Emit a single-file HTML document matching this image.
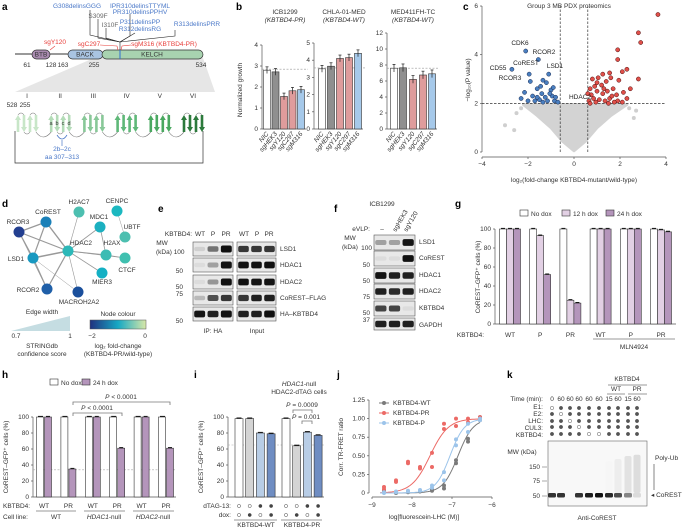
<!DOCTYPE html>
<html><head><meta charset="utf-8">
<style>
html,body{margin:0;padding:0;background:#fff;}
svg{display:block;font-family:"Liberation Sans",sans-serif;font-size:6.5px;fill:#333;}
.pl{font-weight:bold;font-size:10px;fill:#000;}
.ax{stroke:#555;stroke-width:0.7;fill:none;}
.it{font-style:italic;}
</style></head>
<body>
<svg id="fig" width="685" height="529" viewBox="0 0 685 529" xmlns="http://www.w3.org/2000/svg">
<text class="pl" x="2" y="10">a</text>
<text class="pl" x="236" y="10">b</text>
<text class="pl" x="463" y="10">c</text>
<text class="pl" x="2" y="207">d</text>
<text class="pl" x="158" y="212">e</text>
<text class="pl" x="334" y="212">f</text>
<text class="pl" x="455" y="207">g</text>
<text class="pl" x="2" y="378">h</text>
<text class="pl" x="194" y="378">i</text>
<text class="pl" x="337" y="378">j</text>
<text class="pl" x="507" y="378">k</text>

<g id="pa">
 <polygon points="94,58 203,58 215,92 15,92" fill="#e6e6e6"/>
 <line x1="15" y1="54" x2="32" y2="54" stroke="#333" stroke-width="1"/>
 <line x1="50" y1="54" x2="68" y2="54" stroke="#333" stroke-width="1"/>
 <rect x="32" y="50" width="18" height="9" rx="4.5" fill="#a98bb0" stroke="#333" stroke-width="0.7"/>
 <rect x="68" y="50" width="35" height="9" rx="4.5" fill="#a9c4e2" stroke="#333" stroke-width="0.7"/>
 <rect x="102" y="50" width="101" height="9" rx="4.5" fill="#a8d3b0" stroke="#333" stroke-width="0.7"/>
 <line x1="120" y1="50" x2="120" y2="59" stroke="#2f6fd0" stroke-width="1"/>
 <text x="41" y="56.5" text-anchor="middle">BTB</text>
 <text x="85" y="56.5" text-anchor="middle">BACK</text>
 <text x="152" y="56.5" text-anchor="middle">KELCH</text>
 <text x="27" y="67" text-anchor="middle">61</text><text x="51" y="67" text-anchor="middle">128</text>
 <text x="63" y="67" text-anchor="middle">163</text><text x="94" y="67" text-anchor="middle">255</text>
 <text x="201" y="67" text-anchor="middle">534</text>
 <g stroke="#222" stroke-width="0.6" fill="none">
  <polyline points="90,10 90,35 120,42"/><polyline points="98,19 98,38 120,42"/><polyline points="106,28 106,38 120,42"/>
  <polyline points="130,14 130,36 120,42"/><polyline points="135,33 120,42"/><polyline points="175,30 175,36 120,42"/>
  <line x1="120" y1="42" x2="120" y2="50"/>
 </g>
 <g fill="#4a78c8">
  <text x="77" y="8" text-anchor="middle">G308delinsGGG</text>
  <text x="140" y="8" text-anchor="middle">IPR310delinsTTYML</text>
  <text x="140" y="14" text-anchor="middle">PR310delinsPPHV</text>
  <text x="140" y="24" text-anchor="middle">P311delinsPP</text>
  <text x="140" y="31" text-anchor="middle">R312delinsRG</text>
  <text x="197" y="26" text-anchor="middle">R313delinsPRR</text>
 </g>
 <text x="98" y="18" text-anchor="middle" fill="#666">S309F</text>
 <text x="110" y="27" text-anchor="middle" fill="#666">I310F</text>
 <g fill="#e8403c">
  <text x="55" y="44" text-anchor="middle">sgY120</text>
  <text x="89" y="46" text-anchor="middle">sgC297</text>
  <text x="164" y="46" text-anchor="middle">sgM316 (KBTBD4-PR)</text>
 </g>
 <polyline points="55,46 50,50" stroke="#e8403c" stroke-width="0.6" fill="none"/>
 <polyline points="100,45 117,46 118,50" stroke="#e8403c" stroke-width="0.6" fill="none"/>
 <polyline points="131,45 122,46 121,50" stroke="#e8403c" stroke-width="0.6" fill="none"/>
 <g id="blades"></g>
 <text x="12" y="107" text-anchor="middle">528</text><text x="25" y="107" text-anchor="middle">255</text>
 <polyline points="15,131 15,163 203,163 203,131" stroke="#333" stroke-width="0.7" fill="none"/>
 <path d="M57,135 q5,8 10,0" stroke="#4a78c8" fill="none" stroke-width="0.8"/>
 <line x1="62" y1="146" x2="62" y2="140" stroke="#4a78c8" stroke-width="0.7"/>
 <text x="62" y="151" text-anchor="middle" fill="#4a78c8">2b–2c</text>
 <text x="62" y="159" text-anchor="middle" fill="#4a78c8">aa 307–313</text>
</g>

<g id="pb">
 <text x="242" y="90" transform="rotate(-90 242 90)" text-anchor="middle">Normalized growth</text>
 <text x="285" y="14" text-anchor="middle">ICB1299</text><text x="285" y="22" text-anchor="middle" class="it">(KBTBD4-PR)</text>
 <text x="344" y="14" text-anchor="middle">CHLA-01-MED</text><text x="344" y="22" text-anchor="middle" class="it">(KBTBD4-WT)</text>
 <text x="413" y="14" text-anchor="middle">MED411FH-TC</text><text x="413" y="22" text-anchor="middle" class="it">(KBTBD4-WT)</text>
</g>

<g id="pc">
 <text x="569" y="8" text-anchor="middle">Group 3 MB PDX proteomics</text>
 <text x="574" y="182" text-anchor="middle">log₂(fold-change KBTBD4-mutant/wild-type)</text>
 <text x="470" y="80" transform="rotate(-90 470 80)" text-anchor="middle">−log₁₀(P value)</text>
</g>

<g id="pd">
 <g stroke="#999" fill="none">
  <line x1="46" y1="222" x2="19" y2="232" stroke-width="1.2"/><line x1="46" y1="222" x2="33" y2="258" stroke-width="1.2"/>
  <line x1="46" y1="222" x2="68" y2="251" stroke-width="1.4"/><line x1="19" y1="232" x2="33" y2="258" stroke-width="1.2"/>
  <line x1="19" y1="232" x2="68" y2="251" stroke-width="1.2"/><line x1="33" y1="258" x2="68" y2="251" stroke-width="1.5"/>
  <line x1="33" y1="258" x2="47" y2="289" stroke-width="1.2"/><line x1="47" y1="289" x2="68" y2="251" stroke-width="1.2"/>
  <line x1="68" y1="251" x2="79" y2="212" stroke-width="0.6"/><line x1="68" y1="251" x2="100" y2="227" stroke-width="0.8"/>
  <line x1="68" y1="251" x2="106" y2="255" stroke-width="1"/><line x1="68" y1="251" x2="102" y2="273" stroke-width="0.8"/>
  <line x1="68" y1="251" x2="78" y2="292" stroke-width="0.6"/><line x1="68" y1="251" x2="125" y2="258" stroke-width="0.6"/>
  <line x1="117" y1="211" x2="125" y2="237" stroke-width="0.5"/><line x1="106" y1="255" x2="125" y2="258" stroke-width="0.8"/>
  <line x1="100" y1="227" x2="106" y2="255" stroke-width="0.8"/><line x1="33" y1="258" x2="78" y2="292" stroke-width="0.5"/>
  <line x1="19" y1="232" x2="47" y2="289" stroke-width="0.6"/>
 </g>
 <g>
  <circle cx="79" cy="212" r="5.5" fill="#4dbfb0"/><circle cx="117" cy="211" r="5.5" fill="#1cb8c0"/>
  <circle cx="46" cy="222" r="5.5" fill="#1a80b8"/><circle cx="100" cy="227" r="5.5" fill="#1cb0c0"/>
  <circle cx="125" cy="237" r="5.5" fill="#4dbfb0"/><circle cx="19" cy="232" r="5.5" fill="#233f90"/>
  <circle cx="68" cy="251" r="5.5" fill="#2cb8b8"/><circle cx="106" cy="255" r="5.5" fill="#3cbcb4"/>
  <circle cx="33" cy="258" r="5.5" fill="#1898c0"/><circle cx="125" cy="258" r="5.5" fill="#40c0b0"/>
  <circle cx="102" cy="273" r="5.5" fill="#14b0c4"/><circle cx="47" cy="289" r="5.5" fill="#1f5fa8"/>
  <circle cx="78" cy="292" r="5.5" fill="#1a4f9c"/>
 </g>
 <text x="79" y="204" text-anchor="middle">H2AC7</text><text x="117" y="203" text-anchor="middle">CENPC</text>
 <text x="48" y="214" text-anchor="middle">CoREST</text><text x="99" y="219" text-anchor="middle">MDC1</text>
 <text x="132" y="229" text-anchor="middle">UBTF</text><text x="18" y="224" text-anchor="middle">RCOR3</text>
 <text x="81" y="245" text-anchor="middle">HDAC2</text><text x="112" y="245" text-anchor="middle">H2AX</text>
 <text x="16" y="261" text-anchor="middle">LSD1</text><text x="127" y="272" text-anchor="middle">CTCF</text>
 <text x="102" y="284" text-anchor="middle">MIER3</text><text x="28" y="292" text-anchor="middle">RCOR2</text>
 <text x="79" y="304" text-anchor="middle">MACROH2A2</text>
 <text x="42" y="314" text-anchor="middle">Edge width</text>
 <polygon points="11,331 70,316 70,331" fill="#c5dde2"/>
 <text x="16" y="338" text-anchor="middle">0.7</text><text x="70" y="338" text-anchor="middle">1</text>
 <text x="42" y="348" text-anchor="middle">STRINGdb</text><text x="42" y="356" text-anchor="middle">confidence score</text>
 <text x="118" y="316" text-anchor="middle">Node colour</text>
 <defs><linearGradient id="ncg" x1="0" x2="1"><stop offset="0" stop-color="#21317f"/><stop offset="0.5" stop-color="#16a8c4"/><stop offset="1" stop-color="#d8e8a8"/></linearGradient></defs>
 <rect x="90" y="320" width="56" height="9" fill="url(#ncg)" stroke="#555" stroke-width="0.5"/>
 <text x="92" y="338" text-anchor="middle">−2</text><text x="145" y="338" text-anchor="middle">0</text>
 <text x="118" y="348" text-anchor="middle">log₂ fold-change</text><text x="118" y="356" text-anchor="middle">(KBTBD4-PR/wild-type)</text>
</g>

<g id="pe">
 <text x="192" y="236" text-anchor="end">KBTBD4:</text>
 <text x="200" y="236" text-anchor="middle">WT</text><text x="213" y="236" text-anchor="middle">P</text><text x="226" y="236" text-anchor="middle">PR</text>
 <text x="244" y="236" text-anchor="middle">WT</text><text x="257" y="236" text-anchor="middle">P</text><text x="269" y="236" text-anchor="middle">PR</text>
 <text x="162" y="245" text-anchor="middle">MW</text><text x="156" y="254">(kDa) 100</text>
 <text x="183" y="273" text-anchor="end">50</text><text x="183" y="289" text-anchor="end">50</text>
 <text x="183" y="296" text-anchor="end">75</text><text x="183" y="323" text-anchor="end">50</text>
 <text x="213" y="333" text-anchor="middle">IP: HA</text><text x="257" y="333" text-anchor="middle">Input</text>
</g>

<g id="pf">
 <text x="382" y="206" text-anchor="middle">ICB1299</text>
 <text x="370" y="231" text-anchor="end">eVLP:</text>
 <text x="382" y="231" text-anchor="middle">–</text>
 <text x="396" y="232" transform="rotate(-60 396 232)">sgHEK3</text>
 <text x="407" y="232" transform="rotate(-60 407 232)">sgY120</text>
 <text x="350" y="240" text-anchor="middle">MW</text><text x="342" y="249">(kDa)</text><text x="372" y="250" text-anchor="end">100</text>
 <text x="370" y="267" text-anchor="end">50</text><text x="370" y="283" text-anchor="end">50</text>
 <text x="370" y="299" text-anchor="end">75</text><text x="370" y="315" text-anchor="end">50</text><text x="370" y="322" text-anchor="end">37</text>
</g>

<g id="pg">
 <rect x="520" y="210" width="8" height="6" fill="#fff" stroke="#333" stroke-width="0.6"/>
 <text x="531" y="216">No dox</text>
 <rect x="562" y="210" width="8" height="6" fill="#e2d0e4" stroke="#333" stroke-width="0.6"/>
 <text x="573" y="216">12 h dox</text>
 <rect x="606" y="210" width="8" height="6" fill="#b495bb" stroke="#333" stroke-width="0.6"/>
 <text x="617" y="216">24 h dox</text>
 <text x="480" y="277" transform="rotate(-90 480 277)" text-anchor="middle">CoREST–GFP⁺ cells (%)</text>
 <text x="484" y="337" text-anchor="end">KBTBD4:</text>
 <line x1="593" y1="339" x2="675" y2="339" stroke="#777" stroke-width="0.8"/>
 <text x="634" y="349" text-anchor="middle">MLN4924</text>
</g>

<g id="ph">
 <rect x="50" y="379" width="8" height="6" fill="#fff" stroke="#333" stroke-width="0.6"/>
 <text x="61" y="385">No dox</text>
 <rect x="82" y="379" width="8" height="6" fill="#b495bb" stroke="#333" stroke-width="0.6"/>
 <text x="93" y="385">24 h dox</text>
 <text x="8" y="457" transform="rotate(-90 8 457)" text-anchor="middle">CoREST–GFP⁺ cells (%)</text>
 <polyline points="73,405 73,402 170,402 170,405" stroke="#777" stroke-width="0.8" fill="none"/>
 <text x="121" y="399" text-anchor="middle"><tspan class="it">P</tspan> &lt; 0.0001</text>
 <polyline points="73,416 73,413 122,413 122,416" stroke="#777" stroke-width="0.8" fill="none"/>
 <text x="97" y="410" text-anchor="middle"><tspan class="it">P</tspan> &lt; 0.0001</text>
 <text x="3" y="508">KBTBD4:</text><text x="3" y="519">Cell line:</text>
 <line x1="36" y1="511" x2="76" y2="511" stroke="#333" stroke-width="0.6"/>
 <line x1="84" y1="511" x2="125" y2="511" stroke="#333" stroke-width="0.6"/>
 <line x1="133" y1="511" x2="174" y2="511" stroke="#333" stroke-width="0.6"/>
 <text x="56" y="519" text-anchor="middle">WT</text>
 <text x="104" y="519" text-anchor="middle"><tspan class="it">HDAC1</tspan>-null</text>
 <text x="153" y="519" text-anchor="middle"><tspan class="it">HDAC2</tspan>-null</text>
</g>

<g id="pi">
 <text x="299" y="386" text-anchor="middle"><tspan class="it">HDAC1</tspan>-null</text>
 <text x="299" y="394" text-anchor="middle">HDAC2-dTAG cells</text>
 <text x="203" y="457" transform="rotate(-90 203 457)" text-anchor="middle">CoREST–GFP⁺ cells (%)</text>
 <polyline points="293,413 293,410 312,410 312,413" stroke="#777" stroke-width="0.8" fill="none"/>
 <text x="302" y="407" text-anchor="middle"><tspan class="it">P</tspan> = 0.0009</text>
 <polyline points="302,424 302,421 312,421 312,424" stroke="#777" stroke-width="0.8" fill="none"/>
 <text x="306" y="419" text-anchor="middle"><tspan class="it">P</tspan> = 0.001</text>
 <text x="231" y="508" text-anchor="end">dTAG-13:</text><text x="231" y="517" text-anchor="end">dox:</text>
 <line x1="234" y1="520" x2="277" y2="520" stroke="#333" stroke-width="0.6"/>
 <line x1="281" y1="520" x2="322" y2="520" stroke="#333" stroke-width="0.6"/>
 <text x="256" y="527" text-anchor="middle">KBTBD4-WT</text><text x="302" y="527" text-anchor="middle">KBTBD4-PR</text>
</g>

<g id="pj">
 <text x="343" y="447" transform="rotate(-90 343 447)" text-anchor="middle">Corr. TR-FRET ratio</text>
 <text x="424" y="519" text-anchor="middle">log[fluorescein-LHC (M)]</text>
</g>

<g id="pk">
 <text x="627" y="381" text-anchor="middle">KBTBD4</text>
 <line x1="608" y1="385" x2="647" y2="385" stroke="#333" stroke-width="0.6"/>
 <text x="616" y="391" text-anchor="middle">WT</text><text x="637" y="391" text-anchor="middle">PR</text>
 <line x1="607" y1="394" x2="625" y2="394" stroke="#333" stroke-width="0.6"/>
 <line x1="628" y1="394" x2="647" y2="394" stroke="#333" stroke-width="0.6"/>
 <text x="543" y="401" text-anchor="end">Time (min):</text>
 <text x="543" y="409" text-anchor="end">E1:</text><text x="543" y="416" text-anchor="end">E2:</text>
 <text x="543" y="423" text-anchor="end">LHC:</text><text x="543" y="430" text-anchor="end">CUL3:</text>
 <text x="543" y="437" text-anchor="end">KBTBD4:</text>
 <rect x="548" y="441" width="99" height="65" fill="#f8f8f8" stroke="#666" stroke-width="0.6"/>
 <text x="522" y="454" text-anchor="middle">MW (kDa)</text>
 <text x="540" y="469" text-anchor="end">150</text><text x="540" y="483" text-anchor="end">75</text><text x="540" y="498" text-anchor="end">50</text>
 <line x1="542" y1="467" x2="547" y2="467" stroke="#555" stroke-width="0.5"/>
 <line x1="542" y1="481" x2="547" y2="481" stroke="#555" stroke-width="0.5"/>
 <line x1="542" y1="496" x2="547" y2="496" stroke="#555" stroke-width="0.5"/>
 <text x="655" y="460">Poly-Ub</text>
 <line x1="654" y1="464" x2="654" y2="490" stroke="#333" stroke-width="0.6"/>
 <text x="651" y="497">◂ CoREST</text>
 <text x="597" y="520" text-anchor="middle">Anti-CoREST</text>
</g>
</svg>

<script>
const bCats = ['NIC','sgHEK3','sgY120','sgC297','sgM316'];
const bICB1299 = [2.8, 2.72, 1.55, 1.82, 1.87];
const bCHLA = [3.5, 3.65, 4.1, 4.15, 4.4];
const bMED411 = [7.6, 7.65, 6.2, 6.75, 6.9];
const bTicks1 = [0,1,2,3,4];
const bTicks2 = [0,1,2,3,4,5];
const bTicks3 = [0,2,4,6,8,10,12];

const cBlueX = [-2.1,-1.55,-2.7,-1.95,-1.1,-1.9,-1.35,-1.2,-2.15,-1.6,-1.0,-1.4,-1.8,-1.25,-0.95,-2.0,-1.7,-1.5,-1.15,-0.85,-0.7,-1.35,-1.05,-0.8,-1.6,-2.3,-1.45,-0.9];
const cBlueY = [4.15,3.8,3.4,3.2,3.2,2.9,2.95,2.85,2.45,2.6,2.55,2.4,2.3,2.25,2.3,2.1,2.1,2.15,2.1,2.1,2.05,2.05,2.4,2.25,2.25,2.2,2.7,2.65];
const cRedX = [3.65,2.8,2.9,1.9,1.9,2.3,2.8,1.55,1.25,1.05,0.8,1.6,2.1,1.95,1.4,0.9,1.2,0.7,1.7,2.15,1.0,1.45,0.75,1.25,1.85,2.3,0.85,1.1,1.55,0.65,1.35,1.9,2.1,0.95,1.65,1.3,0.6,1.0,1.75,2.45,1.5,0.7];
const cRedY = [5.65,4.9,4.5,4.2,3.8,3.4,3.0,3.25,3.2,3.05,3.0,3.05,3.3,2.95,2.9,2.7,2.75,2.6,2.6,2.45,2.5,2.5,2.35,2.4,2.35,2.2,2.2,2.15,2.2,2.1,2.1,2.1,2.05,2.05,2.3,2.6,2.4,2.85,2.05,2.6,2.0,2.0];
const cGrayEnvX = [-2.2,-1.6,-1.0,-0.5,0,0.5,1.0,1.6,2.3];
const cGrayEnvY = [1.95,1.5,1.0,0.45,0.05,0.45,1.0,1.5,1.95];
const cGrayOutX = [-3.0,-2.6,-2.5,2.6,2.7,-2.3,2.4];
const cGrayOutY = [1.1,0.9,1.6,1.4,1.7,1.8,1.8];
const cTicksX = [-4,-2,0,2,4];
const cTicksY = [0,2,4,6];

const gGroups = ['WT','P','PR','WT','P','PR'];
const gNoDox = [100,100,100,100,100,100];
const g12h = [100,93,25,100,100,99];
const g24h = [100,52,22,100,100,97];
const pctTicks = [0,20,40,60,80,100];

const hKbtbd4 = ['WT','PR','WT','PR','WT','PR'];
const hNoDox = [100,100,100,100,100,100];
const hDox = [100,35,100,61,100,61];

const iVals = [98,98,80,79,98,64,81,77];
const iDtag = [0,0,1,1,0,0,1,1];
const iDox = [0,1,0,1,0,1,0,1];

const jConc = [-8.7,-8.4,-8.1,-7.8,-7.5,-7.2,-6.9,-6.6,-6.3];
const jWT1 = [0.02,0.0,0.01,0.02,0.03,0.06,0.44,0.73,1.02];
const jWT2 = [0.04,0.01,0.02,0.03,0.05,0.1,0.4,0.69,0.98];
const jPR1 = [0.08,0.17,0.4,0.33,0.54,0.93,1.0,1.0,1.02];
const jPR2 = [0.05,0.15,0.42,0.35,0.35,0.86,0.9,0.95,1.0];
const jP1 = [0.0,0.02,0.02,0.04,0.1,0.28,0.72,0.93,1.0];
const jP2 = [0.01,0.01,0.03,0.03,0.07,0.17,0.64,0.82,0.98];
const jEC50 = [-6.85,-7.55,-7.05];
const jHill = [2.3,1.9,2.4];
const jTicksX = [-9,-8,-7,-6];
const jTicksY = [0,0.25,0.5,0.75,1.0,1.25];

const kTime = ['0','60','60','60','60','60','15','60','15','60'];
const kE1 = [0,1,1,1,1,1,1,1,1,1];
const kE2 = [1,0,1,1,1,1,1,1,1,1];
const kLHC = [1,1,0,1,1,1,1,1,1,1];
const kCUL3 = [1,1,1,0,1,1,1,1,1,1];
const kKB = [1,1,1,1,0,0,1,1,1,1];
const kBand = [0.85,0.85,0,0.85,0.95,1.0,0.9,0.75,0.5,0.12];
const kSmear = [0,0,0,0,0,0,0.05,0.25,0.5,0.6];

const eRows = ['LSD1','HDAC1','HDAC2','CoREST–FLAG','HA–KBTBD4'];
const eIP = [[0.1,0.5,1.0],[0.05,0.3,1.0],[0.05,0.35,1.0],[0.2,0.65,0.75],[0.9,0.85,1.0]];
const eInput = [[0.75,0.75,0.75],[0.95,0.95,0.95],[0.95,0.9,0.9],[0.75,0.85,0.85],[0.85,0.85,1.0]];
const fRows = ['LSD1','CoREST','HDAC1','HDAC2','KBTBD4','GAPDH'];
const fVals = [[0.3,0.3,0.9],[0.05,0.05,0.95],[0.9,0.85,0.85],[0.85,0.8,0.85],[0.7,0.7,0.05],[0.85,0.85,0.85]];

const NS='http://www.w3.org/2000/svg';
function add(p,tag,a,txt){const e=document.createElementNS(NS,tag);for(const k in a)e.setAttribute(k,a[k]);if(txt!=null)e.textContent=txt;p.appendChild(e);return e;}
const S = id=>document.getElementById(id);

(function(){
  const g=S('blades');
  const cols=['#c8e6c8','#b4dcb8','#88c898','#5fb878','#4aa860','#2c7a3c'];
  const romans=['I','II','III','IV','V','VI'];
  for(let b=0;b<6;b++){
    const cx=27+b*33.2;
    const t=add(g,'text',{x:cx,y:98,'text-anchor':'middle'},romans[b]);
    
    
    for(let s=0;s<4;s++){
      const x=cx-9+s*6;const up=(s%2===0);
      const y1=115,y2=132;
      let pts;
      if(up) pts=`${x-1.3},${y2} ${x-1.3},${y1+5} ${x-3},${y1+5} ${x},${y1} ${x+3},${y1+5} ${x+1.3},${y1+5} ${x+1.3},${y2}`;
      else pts=`${x-1.3},${y1} ${x-1.3},${y2-5} ${x-3},${y2-5} ${x},${y2} ${x+3},${y2-5} ${x+1.3},${y2-5} ${x+1.3},${y1}`;
      const a=add(g,'polygon',{points:pts,fill:cols[b]});
      
      
      if(s<3){const yy=(s%2===0)?y1:y2;const dy=(s%2===0)?-4:4;
        add(g,'path',{d:`M${x},${yy} q3,${dy} 6,0`,stroke:'#777',fill:'none','stroke-width':0.6});}
    }
    if(b<5) add(g,'path',{d:`M${cx+9},132 q7,10 15.2,0`,stroke:'#777',fill:'none','stroke-width':0.6});
  }
  ['a','b','c','d'].forEach((l,i)=>add(g,'text',{x:51+i*6,y:125,'text-anchor':'middle','font-size':5.5},l));
})();

function bChart(vals,ticks,axX,y0,yTop,centers,dashV){
  const g=S('pb');
  const max=ticks[ticks.length-1];
  const sy=v=>y0-(v/max)*(y0-yTop);
  add(g,'line',{x1:axX,y1:y0,x2:axX,y2:yTop,class:'ax'});
  add(g,'line',{x1:axX,y1:y0,x2:centers[centers.length-1]+5,y2:y0,class:'ax'});
  ticks.forEach(t=>{add(g,'line',{x1:axX-2,y1:sy(t),x2:axX,y2:sy(t),class:'ax'});add(g,'text',{x:axX-4,y:sy(t)+2,'text-anchor':'end'},String(t));});
  const cols=['#fff','#8f8f8f','#df9c9c','#df9c9c','#a6c9ea'];
  add(g,'line',{x1:axX,y1:sy(dashV),x2:centers[4]+7,y2:sy(dashV),stroke:'#999','stroke-dasharray':'2,1.5','stroke-width':0.6});
  vals.forEach((v,i)=>{
    const r=add(g,'rect',{x:centers[i]-3.5,y:sy(v),width:7,height:y0-sy(v),fill:cols[i],stroke:'#333','stroke-width':0.6});
    
    
    const e=(y0-yTop)*0.04;
    add(g,'line',{x1:centers[i],y1:sy(v)-e,x2:centers[i],y2:sy(v)+e,stroke:'#222','stroke-width':0.7});
    add(g,'line',{x1:centers[i]-1.5,y1:sy(v)-e,x2:centers[i]+1.5,y2:sy(v)-e,stroke:'#222','stroke-width':0.7});
    const tx=add(g,'text',{x:centers[i]+2,y:y0+5,'text-anchor':'end',class:'it',transform:`rotate(-50 ${centers[i]+2} ${y0+5})`},bCats[i]);
    
    
  });
}
bChart(bICB1299,bTicks1,262,129,45,[267,275.5,284,292.5,301],2.85);
bChart(bCHLA,bTicks2,314,129,43,[322,331,340,349,358],3.55);
bChart(bMED411,bTicks3,387,129,33,[394,403,413,423,432],7.6);

(function(){
  const g=S('pc');
  const X=v=>574+v*23, Y=v=>152-v*24.33;
  add(g,'line',{x1:X(-4),y1:152,x2:X(-4),y2:Y(6),class:'ax'});
  add(g,'line',{x1:X(-4),y1:157,x2:X(4),y2:157,class:'ax'});
  cTicksY.forEach(t=>{add(g,'line',{x1:X(-4)-2,y1:Y(t),x2:X(-4),y2:Y(t),class:'ax'});add(g,'text',{x:X(-4)-4,y:Y(t)+2,'text-anchor':'end'},String(t));});
  cTicksX.forEach(t=>{add(g,'line',{x1:X(t),y1:157,x2:X(t),y2:159,class:'ax'});add(g,'text',{x:X(t),y:166,'text-anchor':'middle'},t<0?'−'+(-t):String(t));});
  let pts=cGrayEnvX.map((x,i)=>X(x)+','+Y(cGrayEnvY[i])).join(' ');
  const cl=add(g,'polygon',{points:pts,fill:'#d3d3d3',stroke:'#d3d3d3','stroke-width':3,'stroke-linejoin':'round'});
  
  
  cGrayOutX.forEach((x,i)=>{const c=add(g,'circle',{cx:X(x),cy:Y(cGrayOutY[i]),r:2,fill:'#cfcfcf'});
    
    });
  add(g,'line',{x1:X(-4),y1:Y(2),x2:X(4),y2:Y(2),stroke:'#333','stroke-dasharray':'2.5,1.5','stroke-width':0.7});
  add(g,'line',{x1:X(-0.6),y1:Y(0),x2:X(-0.6),y2:Y(6),stroke:'#333','stroke-dasharray':'2.5,1.5','stroke-width':0.7});
  add(g,'line',{x1:X(0.6),y1:Y(0),x2:X(0.6),y2:Y(6),stroke:'#333','stroke-dasharray':'2.5,1.5','stroke-width':0.7});
  cBlueX.forEach((x,i)=>{const c=add(g,'circle',{cx:X(x),cy:Y(cBlueY[i]),r:2.1,fill:'#4a7fc0',stroke:'#1a2a50','stroke-width':0.5});
    
    });
  cRedX.forEach((x,i)=>{const c=add(g,'circle',{cx:X(x),cy:Y(cRedY[i]),r:2.1,fill:'#e0504a',stroke:'#4a1010','stroke-width':0.5});
    
    });
  [['CDK6',520,45],['RCOR2',544,54],['CoREST',526,65],['LSD1',555,68],['CD55',498,70],['RCOR3',510,80],['HDAC2',580,99]].forEach(l=>{
    const t=add(g,'text',{x:l[1],y:l[2],'text-anchor':'middle',fill:'#222'},l[0]);
    
    });
})();

function blotBox(g,x,y,w,h,vals){
  add(g,'rect',{x:x,y:y,width:w,height:h,fill:'#e8e8e8',stroke:'#555','stroke-width':0.6});
  const lw=w/vals.length;
  vals.forEach((v,i)=>{if(v>0.02){const b=add(g,'rect',{x:x+i*lw+1.2,y:y+h/2-2-1.5*v,width:lw-2.4,height:4+3*v,rx:2,fill:'#111',opacity:Math.min(1,v*1.1)});
    
    }});
}
(function(){
  const g=S('pe');
  const ys=[242,258,275,291,307];
  eRows.forEach((r,i)=>{
    blotBox(g,193,ys[i],40,14,eIP[i]);
    blotBox(g,237,ys[i],39,14,eInput[i]);
    add(g,'text',{x:280,y:ys[i]+9},r);
  });
  const gf=S('pf');
  const fy=[235,251,268,284,301,318];
  fRows.forEach((r,i)=>{
    blotBox(gf,374,fy[i],41,i===5?12:15,fVals[i]);
    add(gf,'text',{x:419,y:fy[i]+9},r);
  });
})();

(function(){
  const g=S('pg');
  const y0=324, y100=229, axX=495;
  const Y=v=>y0-(v/100)*(y0-y100);
  add(g,'line',{x1:axX,y1:y0,x2:axX,y2:y100,class:'ax'});
  add(g,'line',{x1:axX,y1:y0,x2:676,y2:y0,class:'ax'});
  pctTicks.forEach(t=>{add(g,'line',{x1:axX-2,y1:Y(t),x2:axX,y2:Y(t),class:'ax'});add(g,'text',{x:axX-4,y:Y(t)+2,'text-anchor':'end'},String(t));});
  const cols=['#fff','#e2d0e4','#b495bb'];
  gGroups.forEach((lab,i)=>{
    const cx=510+i*30.2;
    [gNoDox[i],g12h[i],g24h[i]].forEach((v,k)=>{
      const r=add(g,'rect',{x:cx-10.5+k*7,y:Y(v),width:7,height:y0-Y(v),fill:cols[k],stroke:'#333','stroke-width':0.6});
      
      
      add(g,'line',{x1:cx-9+k*7,y1:Y(v)-0.6,x2:cx-5+k*7,y2:Y(v)-0.6,stroke:'#111','stroke-width':1});
    });
    add(g,'text',{x:cx,y:337,'text-anchor':'middle'},lab);
  });
})();

(function(){
  const g=S('ph');
  const y0=497,y100=417,axX=33;
  const Y=v=>y0-(v/100)*(y0-y100);
  add(g,'line',{x1:axX,y1:y0,x2:axX,y2:y100,class:'ax'});
  add(g,'line',{x1:axX,y1:y0,x2:176,y2:y0,class:'ax'});
  pctTicks.forEach(t=>{add(g,'line',{x1:axX-2,y1:Y(t),x2:axX,y2:Y(t),class:'ax'});add(g,'text',{x:axX-4,y:Y(t)+2,'text-anchor':'end'},String(t));});
  add(g,'line',{x1:axX,y1:Y(34),x2:176,y2:Y(34),stroke:'#aaa','stroke-dasharray':'2,1.5','stroke-width':0.6});
  hKbtbd4.forEach((lab,i)=>{
    const cx=44+i*24.4;
    const r1=add(g,'rect',{x:cx-7.5,y:Y(hNoDox[i]),width:7,height:y0-Y(hNoDox[i]),fill:'#fff',stroke:'#333','stroke-width':0.6});
    
    
    const r2=add(g,'rect',{x:cx+0.5,y:Y(hDox[i]),width:7,height:y0-Y(hDox[i]),fill:'#b495bb',stroke:'#333','stroke-width':0.6});
    
    
    add(g,'line',{x1:cx-6,y1:Y(hNoDox[i])-0.6,x2:cx-1,y2:Y(hNoDox[i])-0.6,stroke:'#111','stroke-width':1});
    add(g,'line',{x1:cx+2,y1:Y(hDox[i])-0.6,x2:cx+6,y2:Y(hDox[i])-0.6,stroke:'#111','stroke-width':1});
    add(g,'text',{x:cx,y:508,'text-anchor':'middle'},lab);
  });
})();

(function(){
  const g=S('pi');
  const y0=497,y100=417,axX=228;
  const Y=v=>y0-(v/100)*(y0-y100);
  add(g,'line',{x1:axX,y1:y0,x2:axX,y2:y100,class:'ax'});
  add(g,'line',{x1:axX,y1:y0,x2:324,y2:y0,class:'ax'});
  pctTicks.forEach(t=>{add(g,'line',{x1:axX-2,y1:Y(t),x2:axX,y2:Y(t),class:'ax'});add(g,'text',{x:axX-4,y:Y(t)+2,'text-anchor':'end'},String(t));});
  add(g,'line',{x1:axX,y1:Y(65),x2:324,y2:Y(65),stroke:'#aaa','stroke-dasharray':'2,1.5','stroke-width':0.6});
  const cols=['#fff','#d4d4d4','#b8cde6','#6f8dc2'];
  iVals.forEach((v,i)=>{
    const cx=(i<4?239:286)+(i%4)*10.7;
    const r=add(g,'rect',{x:cx-4,y:Y(v),width:8,height:y0-Y(v),fill:cols[i%4],stroke:'#333','stroke-width':0.6});
    
    
    add(g,'line',{x1:cx-2.5,y1:Y(v)-0.6,x2:cx+2.5,y2:Y(v)-0.6,stroke:'#111','stroke-width':1});
    const c1=add(g,'circle',{cx:cx,cy:506,r:1.6,fill:iDtag[i]?'#444':'#fff',stroke:'#444','stroke-width':0.5});
    
    
    const c2=add(g,'circle',{cx:cx,cy:515,r:1.6,fill:iDox[i]?'#444':'#fff',stroke:'#444','stroke-width':0.5});
    
    
  });
})();

(function(){
  const g=S('pj');
  const X=v=>372+(v+9)*40, Y=v=>493-v*74.4;
  add(g,'line',{x1:369,y1:Y(0),x2:369,y2:Y(1.25),class:'ax'});
  add(g,'line',{x1:X(-9),y1:497,x2:X(-6),y2:497,class:'ax'});
  jTicksY.forEach(t=>{add(g,'line',{x1:367,y1:Y(t),x2:369,y2:Y(t),class:'ax'});add(g,'text',{x:365,y:Y(t)+2,'text-anchor':'end'},t===0?'0':t.toFixed(2));});
  jTicksX.forEach(t=>{add(g,'line',{x1:X(t),y1:497,x2:X(t),y2:499,class:'ax'});add(g,'text',{x:X(t),y:507,'text-anchor':'middle'},'−'+(-t));});
  const series=[['KBTBD4-WT','#7a7a7a',jWT1,jWT2],['KBTBD4-PR','#ec6a66',jPR1,jPR2],['KBTBD4-P','#9cc4ea',jP1,jP2]];
  series.forEach((s,k)=>{
    let d='';
    for(let x=-8.8;x<=-6.25;x+=0.05){const v=1.0/(1+Math.pow(10,(jEC50[k]-x)*jHill[k]));d+=(d?'L':'M')+X(x).toFixed(1)+','+Y(v).toFixed(1);}
    const p=add(g,'path',{d:d,stroke:s[1],fill:'none','stroke-width':1});
    
    
    jConc.forEach((c,i)=>{[s[2][i],s[3][i]].forEach(v=>{
      const pt=add(g,'circle',{cx:X(c),cy:Y(v),r:2,fill:s[1]});
      
      
    });});
    const ly=403+k*10;
    add(g,'line',{x1:379,y1:ly,x2:389,y2:ly,stroke:s[1],'stroke-width':1});
    add(g,'circle',{cx:384,cy:ly,r:2,fill:s[1]});
    const lt=add(g,'text',{x:393,y:ly+2.2},s[0]);
    
    
  });
})();

(function(){
  const g=S('pk');
  const cols=[552,561,570,579,589,599,609,618,628,637];
  const rows=[[kE1,408],[kE2,414],[kLHC,421],[kCUL3,427],[kKB,434]];
  cols.forEach((cx,i)=>{
    add(g,'text',{x:cx,y:401,'text-anchor':'middle'},kTime[i]);
    rows.forEach(r=>{
      const c=add(g,'circle',{cx:cx,cy:r[1],r:1.7,fill:r[0][i]?'#555':'#fff',stroke:'#555','stroke-width':0.5});
      
      
    });
    if(kSmear[i]>0){
      const sm=add(g,'rect',{x:cx-3.5,y:462-kSmear[i]*12,width:7,height:31+kSmear[i]*12,rx:2,fill:'#666',opacity:kSmear[i]*0.3});
      
      
    }
    if(kBand[i]>0){
      const b=add(g,'rect',{x:cx-4,y:493,width:8,height:4.5,rx:1.5,fill:'#111',opacity:kBand[i]});
      
      
    }
  });
})();
</script>
</body></html>
